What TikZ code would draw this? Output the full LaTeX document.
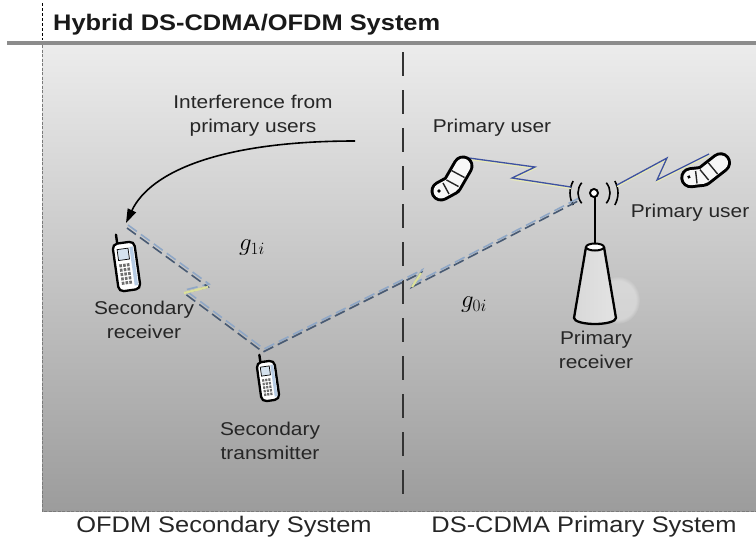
\documentclass[tikz,border=0pt]{standalone}
\usepackage{fontspec}
\usetikzlibrary{arrows.meta,fadings}
\newfontfamily\labfont{Liberation Sans}[FakeStretch=1.13]

\definecolor{paneltop}{HTML}{ECECEC}
\definecolor{panelmid}{HTML}{C9C9C9}
\definecolor{panelbot}{HTML}{9C9C9C}
\definecolor{rulegray}{HTML}{8C8C8C}
\definecolor{edgegray}{HTML}{7A7A7A}
\definecolor{linkdark}{HTML}{485A73}
\definecolor{linklight}{HTML}{8FA7C6}
\definecolor{sparkyellow}{HTML}{DCE09A}
\definecolor{boltblue}{HTML}{3E52A0}
\definecolor{screenblue}{HTML}{D5E2EE}
\definecolor{caseblue}{HTML}{B7CCE4}
\definecolor{keygray}{HTML}{6E6E6E}

\tikzset{
  lab/.style={font=\labfont\fontsize{18.5}{24}\selectfont, text=black!85, align=center, inner sep=0pt},
  syslab/.style={font=\labfont\fontsize{22.5}{27}\selectfont, text=black!85, inner sep=0pt},
  titlelab/.style={font=\labfont\bfseries\fontsize{22.5}{24}\selectfont, text=black!90, inner sep=0pt},
  gain/.style={font=\fontsize{24}{24}\selectfont, inner sep=0pt},
  linkdash/.style={dash pattern=on 11pt off 5pt, line width=1.6pt},
  bolt/.style={line width=1.3pt, line join=miter, boltblue},
  boltglow/.style={line width=1.3pt, sparkyellow!70!white},
  % candy-bar handset, centred on its body
  handset/.pic={
    \draw[line width=2.4pt, line cap=round] (-6,-22) -- (-6,-33);
    \draw[line width=2.3pt, fill=white, rounded corners=5pt] (-11,-24) rectangle (11,24);
    \fill[caseblue] (5.5,-19) rectangle (9,20);
    \draw[line width=0.7pt, fill=screenblue] (-7,-18) rectangle (4,-7);
    \foreach \r in {0,...,4}{\foreach \c in {0,1,2}{
      \fill[keygray] (-7+\c*3.8,-3+\r*4.4) rectangle ++(2.6,3);}}
  },
  % clam-shell handset, drawn as a bent rounded band
  flipset/.pic={
    \draw[line width=21pt, line cap=round, line join=round] (10,-14) -- (-1,5) -- (-12,11);
    \draw[line width=15pt, white!94!gray, line cap=round, line join=round] (10,-14) -- (-1,5) -- (-12,11);
    \draw[line width=1.4pt, black!85] (-1.5,-9.5) -- (11.5,-2.5);
    \draw[line width=1.4pt, black!85] (-6.5,0) -- (5.5,6.5);
    \draw[line width=1.4pt, black!85] (-10,3) -- (-4,14);
    \fill (-14,11) circle (1.8);
  }
}

\begin{document}
\begin{tikzpicture}[x=1pt, y=-1pt]
\useasboundingbox (0,0) rectangle (756,539);
\fill[white] (0,0) rectangle (756,539);

% shaded panel and its borders
\shade[top color=paneltop, middle color=panelmid, bottom color=panelbot] (42,45) rectangle (756,511);
\draw[rulegray, line width=4pt] (7,42.5) -- (756,42.5);
\draw[black, line width=1pt, dash pattern=on 3pt off 2pt] (42,3) -- (42,40);
\draw[edgegray, line width=1pt, dash pattern=on 3pt off 1.5pt] (42,45) -- (42,511) -- (756,511);

% boundary between the two systems
\draw[black!80, line width=1.3pt, dash pattern=on 24pt off 14pt] (403,52) -- (403,505);

% title and system names
\node[titlelab, anchor=base west] (title) at (53,30) {Hybrid DS-CDMA/OFDM System};
\node[syslab, anchor=base] (ofdmlbl) at (224,532) {OFDM Secondary System};
\node[syslab, anchor=base] (cdmalbl) at (584,532) {DS-CDMA Primary System};

% link end points
\coordinate (rxtop) at (127,228);
\coordinate (rxarrow) at (126,223);
\coordinate (txtop) at (263,352);
\coordinate (bsant) at (578,201);
\coordinate (kinkA1) at (208,287);
\coordinate (kinkA2) at (184,293);
\coordinate (kinkB1) at (421,273);
\coordinate (kinkB2) at (412,287);
\coordinate (intsrc) at (355,141);
\coordinate (pu1end) at (469,158);
\coordinate (boltA1) at (535,167);
\coordinate (boltA2) at (512,178);
\coordinate (bsleft) at (571,187);
\coordinate (bsright) at (617,185);
\coordinate (boltB1) at (667,158);
\coordinate (boltB2) at (657,180);
\coordinate (pu2end) at (709,154);

% base station: shadow, cone, mast and radiating antenna
\fill[white, opacity=0.35, path fading=circle with fuzzy edge 20 percent] (618,300) ellipse (22 and 24);
\shade[left color=gray!30, middle color=white, right color=gray!22]
  (586,247) -- (574,318) arc[start angle=180, end angle=0, x radius=21, y radius=6] -- (604,247) -- cycle;
\draw[line width=2.3pt, line join=round]
  (586,247) -- (574,318) arc[start angle=180, end angle=0, x radius=21, y radius=6] -- (604,247);
\draw[line width=2pt, fill=white] (595,247) ellipse (9 and 3.5);
\draw[line width=2pt] (595,197) -- (595,243.5);
\draw[line width=1.9pt, fill=white] (594,193) circle (4);
\draw[line width=1.6pt] (594,193) ++(140:16) arc[start angle=140, end angle=220, radius=16];
\draw[line width=1.6pt] (594,193) ++(150:24) arc[start angle=150, end angle=210, radius=24];
\draw[line width=1.6pt] (594,193) ++(-40:16) arc[start angle=-40, end angle=40, radius=16];
\draw[line width=1.6pt] (594,193) ++(-30:24) arc[start angle=-30, end angle=30, radius=24];

% secondary links (dashed, with interference breaks)
\draw[linkdash, linklight, transform canvas={xshift=1pt, yshift=3pt}]
  (rxtop) -- (kinkA1) -- (kinkA2) -- (txtop) -- (kinkB1) -- (kinkB2) -- (bsant);
\draw[linkdash, linkdark]
  (rxtop) -- (kinkA1) -- (kinkA2) -- (txtop) -- (kinkB1) -- (kinkB2) -- (bsant);
\draw[sparkyellow, line width=2.2pt] (kinkA1) -- (kinkA2);
\draw[sparkyellow, line width=2.2pt] (kinkB1) -- (kinkB2);

% primary links (lightning)
\draw[boltglow, transform canvas={yshift=-1.5pt}] (pu1end) -- (boltA1) -- (boltA2) -- (bsleft);
\draw[bolt] (pu1end) -- (boltA1) -- (boltA2) -- (bsleft);
\draw[boltglow, transform canvas={yshift=-1.5pt}] (bsright) -- (boltB1) -- (boltB2) -- (pu2end);
\draw[bolt] (bsright) -- (boltB1) -- (boltB2) -- (pu2end);

% handsets
\pic[rotate=8] at (126.5,266.5) {handset};
\pic[rotate=8, scale=0.82] at (268,381) {handset};
\pic at (453,180) {flipset};
\pic[rotate=-22] at (706,172) {flipset};

% interference arrow
\draw[line width=1.6pt, -{Triangle[length=14pt, width=9pt]}]
  (intsrc) .. controls (220,141) and (150,172) .. (rxarrow);

% labels
\node[lab] (intlbl) at (253,116) {Interference from\\primary users};
\node[lab] (pu1lbl) at (492,128) {Primary user};
\node[lab] (pu2lbl) at (690,213) {Primary user};
\node[lab] (rxlbl) at (144,320) {Secondary\\receiver};
\node[lab] (txlbl) at (270,441) {Secondary\\transmitter};
\node[lab] (bslbl) at (596,350) {Primary\\receiver};
\node[gain] (g1lbl) at (252,248) {$g_{1i}$};
\node[gain] (g0lbl) at (474,305) {$g_{0i}$};
\end{tikzpicture}
\end{document}
